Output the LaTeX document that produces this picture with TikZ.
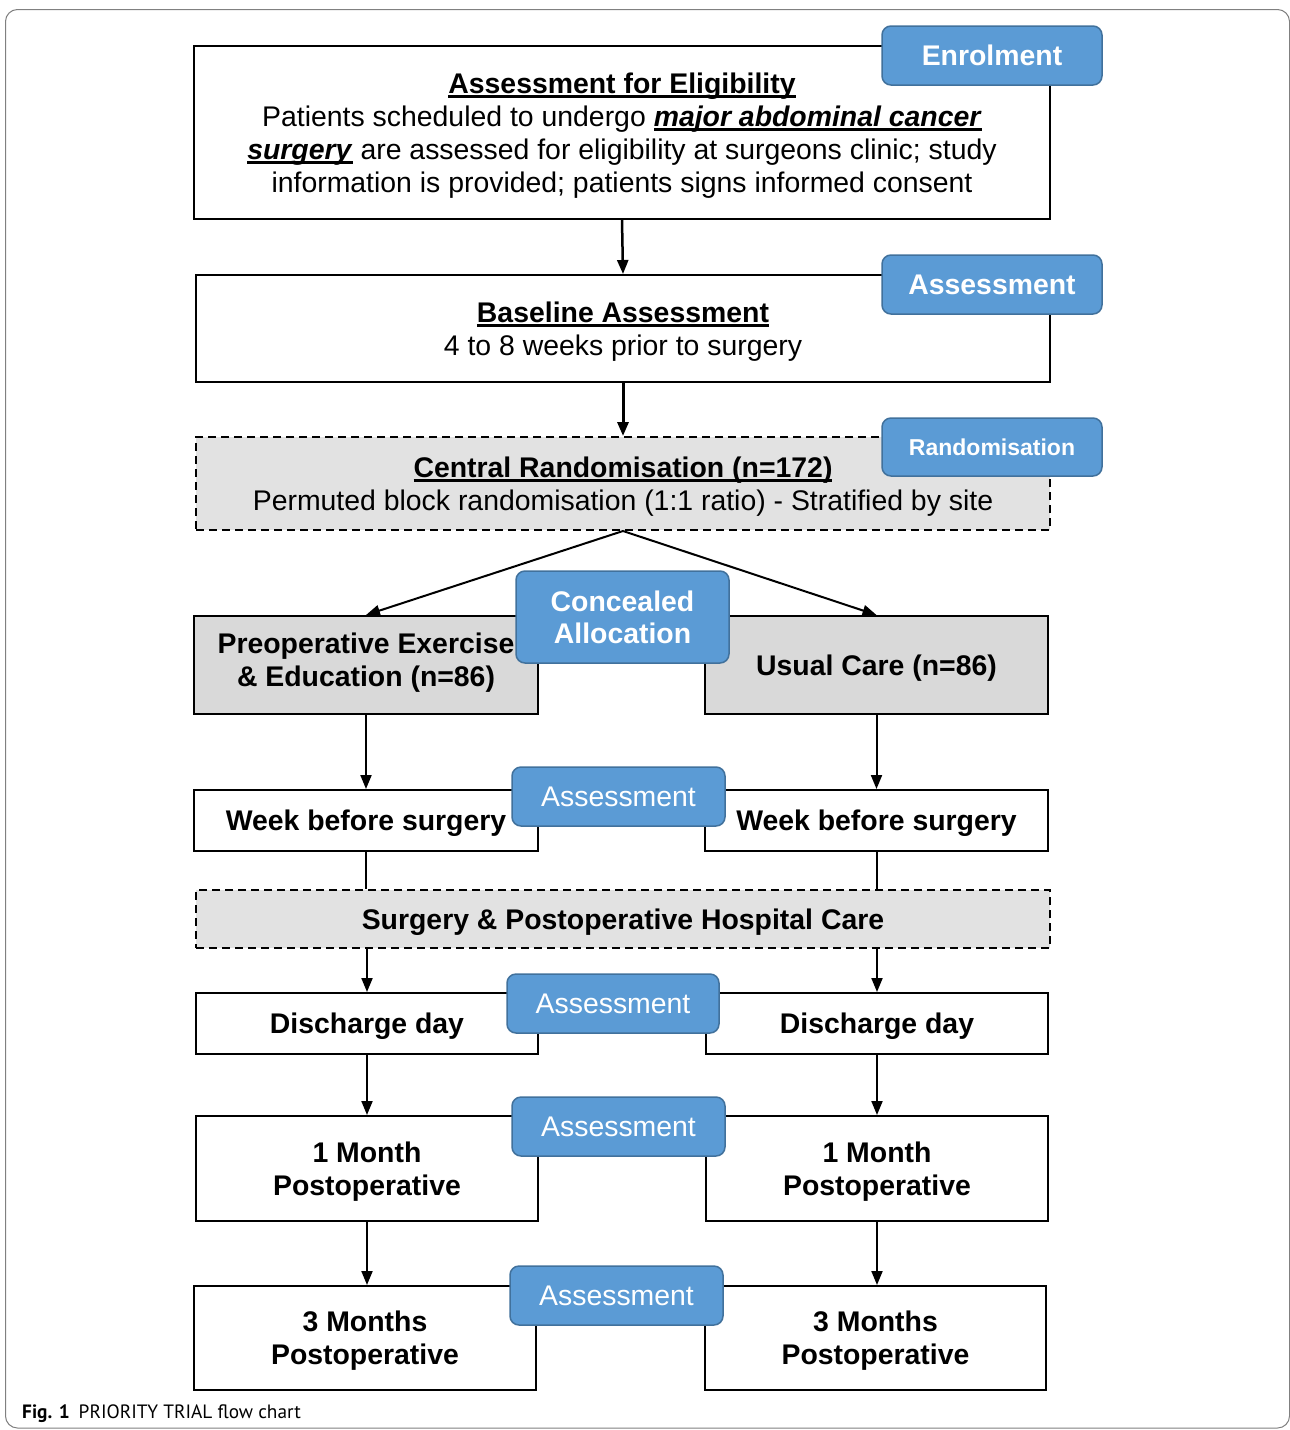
\documentclass[tikz,border=0pt]{standalone}
\usepackage{fontspec}
\setmainfont{Liberation Sans}
\newfontfamily\capfont{PT Sans}
\usetikzlibrary{arrows.meta,calc}
\definecolor{tagblue}{HTML}{5B9BD5}
\definecolor{tagedge}{HTML}{41719C}
\definecolor{boxgray}{HTML}{D9D9D9}
\definecolor{dashgray}{HTML}{E2E2E2}
\newcommand\fsz{\fontsize{28.4}{33}\selectfont}
\newcommand\ulin[1]{\leavevmode\setbox0=\hbox{#1}\rlap{\rule[-4.5pt]{\wd0}{2.5pt}}\box0\relax}
\tikzset{
  box/.style={draw=black, line width=2pt, fill=white, inner sep=0pt, align=center, font=\fsz, text depth=-3pt},
  graybox/.style={box, fill=boxgray},
  dashbox/.style={box, fill=dashgray, dash pattern=on 8pt off 5pt},
  tag/.style={draw=tagedge, fill=tagblue, line width=1.5pt, rounded corners=9pt, text=white, inner sep=0pt, align=center, font=\fsz, text depth=-2.5pt},
  arr/.style={line width=2pt, -{Triangle[length=14pt,width=11pt]}},
  plain/.style={line width=2pt}
}
\begin{document}
\begin{tikzpicture}[x=1pt,y=-1pt]
\useasboundingbox (0,0) rectangle (1290,1430);
\draw[gray, line width=1pt, rounded corners=12pt] (5.5,9.5) rectangle (1289.5,1428);

% boxes
\node[box, minimum width=856, minimum height=173, text depth=-2pt] (elig) at (622,132.5)
 {\ulin{\textbf{Assessment for Eligibility}}\\
  Patients scheduled to undergo \ulin{\textbf{\textit{major abdominal cancer}}}\\
  \ulin{\textbf{\textit{surgery}}} are assessed for eligibility at surgeons clinic; study\\
  information is provided; patients signs informed consent};
\node[box, minimum width=854, minimum height=107, text depth=-1.5pt] (base) at (623,328.5)
 {\ulin{\textbf{Baseline Assessment}}\\4 to 8 weeks prior to surgery};
\node[dashbox, minimum width=854, minimum height=93, text depth=-1.5pt] (rand) at (623,483.5)
 {\ulin{\textbf{Central Randomisation (n=172)}}\\Permuted block randomisation (1:1 ratio) - Stratified by site};
\node[graybox, minimum width=344, minimum height=98, text depth=10pt] (preop) at (366,665)
 {\textbf{Preoperative Exercise}\\\textbf{\& Education (n=86)}};
\node[graybox, minimum width=343, minimum height=98] (usual) at (876.5,665)
 {\textbf{Usual Care (n=86)}};
\node[box, minimum width=344, minimum height=61, text depth=-7pt] (wkl) at (366,820.5) {\textbf{Week before surgery}};
\node[box, minimum width=343, minimum height=61, text depth=-7pt] (wkr) at (876.5,820.5) {\textbf{Week before surgery}};
\node[dashbox, minimum width=854, minimum height=58, text depth=-4pt] (surg) at (623,919)
 {\textbf{Surgery \& Postoperative Hospital Care}};
\node[box, minimum width=342, minimum height=61, text depth=-7pt] (disl) at (367,1023.5) {\textbf{Discharge day}};
\node[box, minimum width=342, minimum height=61, text depth=-7pt] (disr) at (877,1023.5) {\textbf{Discharge day}};
\node[box, minimum width=342, minimum height=105, text depth=-4pt] (mol) at (367,1168.5) {\textbf{1 Month}\\\textbf{Postoperative}};
\node[box, minimum width=342, minimum height=105, text depth=-4pt] (mor) at (877,1168.5) {\textbf{1 Month}\\\textbf{Postoperative}};
\node[box, minimum width=342, minimum height=104, text depth=-5pt] (tml) at (365,1338) {\textbf{3 Months}\\\textbf{Postoperative}};
\node[box, minimum width=341, minimum height=104, text depth=-5pt] (tmr) at (875.5,1338) {\textbf{3 Months}\\\textbf{Postoperative}};

% connectors
\draw[arr, line width=2.5pt] (elig.south) -- (base.north);
\draw[arr, line width=3pt] (base.south) -- (rand.north);
\draw[arr] (rand.south) -- (preop.north);
\draw[arr] (rand.south) -- (usual.north);
\draw[arr] (preop.south) -- (wkl.north);
\draw[arr] (usual.south) -- (wkr.north);
\draw[plain] (wkl.south) -- (wkl.south |- surg.north);
\draw[plain] (wkr.south) -- (wkr.south |- surg.north);
\draw[arr] (disl.north |- surg.south) -- (disl.north);
\draw[arr] (disr.north |- surg.south) -- (disr.north);
\draw[arr] (disl.south) -- (mol.north);
\draw[arr] (disr.south) -- (mor.north);
\draw[arr] (mol.south) -- (mol.south |- tml.north);
\draw[arr] (mor.south) -- (mor.south |- tmr.north);

% tags
\node[tag, minimum width=220, minimum height=59, text depth=-3pt] (tenrol) at (992,55.5) {\textbf{Enrolment}};
\node[tag, minimum width=220, minimum height=59, text depth=-3pt] (tbase) at (992,284.5) {\textbf{Assessment}};
\node[tag, minimum width=220, minimum height=58, font=\fontsize{23}{27}\selectfont, text depth=-2pt] (trand) at (992,447) {\textbf{Randomisation}};
\node[tag, minimum width=213, minimum height=92, font=\fontsize{28.4}{32}\selectfont, text depth=-4pt] (tconc) at (622.5,617) {\textbf{Concealed}\\\textbf{Allocation}};
\node[tag, minimum width=213, minimum height=59] (twk) at (618.5,796.5) {Assessment};
\node[tag, minimum width=212, minimum height=59] (tdis) at (613,1003.5) {Assessment};
\node[tag, minimum width=213, minimum height=59] (tmo) at (618.5,1126.5) {Assessment};
\node[tag, minimum width=213, minimum height=59, text depth=-4pt] (ttm) at (616.5,1295.5) {Assessment};

% caption
\node[anchor=base west, inner sep=0pt, font=\capfont\fontsize{19.3}{22}\selectfont] (cap) at (22,1418)
 {\textbf{Fig. 1}\hspace{9pt}PRIORITY TRIAL flow chart};
\end{tikzpicture}
\end{document}
